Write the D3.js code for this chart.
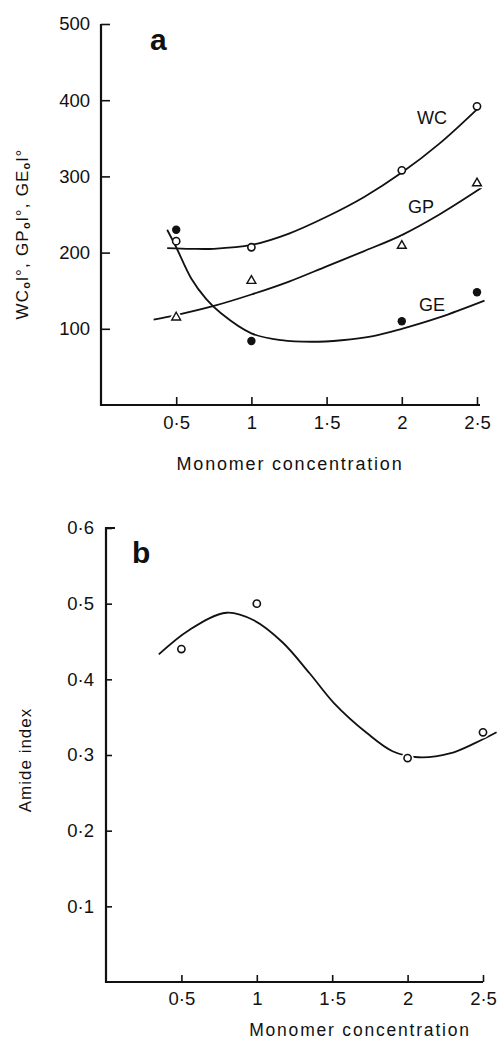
<!DOCTYPE html>
<html><head><meta charset="utf-8">
<script src="https://cdn.jsdelivr.net/npm/d3@7"></script>
<style>
body{margin:0;background:#fff}
text{font-family:"Liberation Sans",Arial,sans-serif;fill:#111}
</style></head>
<body><svg id="c" width="498" height="1041"></svg>
<script>
// ---------- data: panel a ----------
const concA = [0.5, 1, 2, 2.5];
const wcValues = [215, 207, 308, 392];
const gpValues = [115, 163, 209, 291];
const geValues = [230, 84, 110, 148];
// hand-drawn fitted curves
const wcCurveX = [0.44, 0.6, 0.75, 1.0, 1.25, 1.5, 1.75, 2.0, 2.25, 2.5];
const wcCurveY = [206, 205, 205, 210, 225, 247, 273, 305, 343, 388];
const gpCurveX = [0.35, 0.5, 0.75, 1.0, 1.25, 1.5, 1.75, 2.0, 2.25, 2.53];
const gpCurveY = [112, 118, 130, 145, 162, 182, 202, 223, 250, 285];
const geCurveX = [0.44, 0.5, 0.6, 0.7, 0.8, 1.0, 1.2, 1.4, 1.6, 1.8, 2.0, 2.25, 2.55];
const geCurveY = [230, 207, 166, 139, 120, 94, 85, 83, 85, 90, 100, 115, 137];
const yTicksA = [100, 200, 300, 400, 500];
const xTicks = [0.5, 1, 1.5, 2, 2.5];
const xTickLabels = ["0·5", "1", "1·5", "2", "2·5"];

// ---------- data: panel b ----------
const concB = [0.5, 1, 2, 2.5];
const amideValues = [0.44, 0.50, 0.296, 0.33];
const amCurveX = [0.35, 0.55, 0.8, 0.98, 1.17, 1.35, 1.51, 1.73, 1.9, 2.07, 2.28, 2.45, 2.59];
const amCurveY = [0.433, 0.465, 0.488, 0.478, 0.449, 0.408, 0.369, 0.329, 0.305, 0.297, 0.302, 0.316, 0.330];
const yTicksB = [0.1, 0.2, 0.3, 0.4, 0.5, 0.6];
const yTickLabelsB = ["0·1", "0·2", "0·3", "0·4", "0·5", "0·6"];

const svg = d3.select("#c");

function styleAxis(g){
  g.selectAll(".tick line").attr("stroke","#111").attr("stroke-width",1.6);
  g.selectAll(".tick text").attr("font-size",18.5).attr("fill","#111")
   .attr("font-family","'Liberation Sans',Arial,sans-serif");
  g.select(".domain").remove();
}

// ================= PANEL A =================
const xA = d3.scaleLinear([0, 2.5], [101, 477]);
const yA = d3.scaleLinear([0, 500], [405, 24]);
const gA = svg.append("g");

gA.append("g").attr("transform", `translate(${xA(0)},0)`)
  .call(d3.axisLeft(yA).tickValues(yTicksA).tickSizeInner(-9).tickSizeOuter(0).tickPadding(11))
  .call(styleAxis);
gA.append("g").attr("transform", `translate(0,${yA(0)})`)
  .call(d3.axisBottom(xA).tickValues(xTicks).tickFormat((d,i)=>xTickLabels[i]).tickSizeInner(-8).tickSizeOuter(0).tickPadding(11))
  .call(styleAxis);
gA.append("path").attr("fill","none").attr("stroke","#111").attr("stroke-width",2.2)
  .attr("d", `M${xA(0)},${yA(500)}V${yA(0)}H${xA(2.52)}`);

const lineA = d3.line().curve(d3.curveCatmullRom.alpha(0.5)).x(d=>xA(d[0])).y(d=>yA(d[1]));
[[wcCurveX,wcCurveY],[gpCurveX,gpCurveY],[geCurveX,geCurveY]].forEach(([xs,ys])=>{
  gA.append("path").datum(xs.map((x,i)=>[x,ys[i]]))
    .attr("fill","none").attr("stroke","#111").attr("stroke-width",1.8).attr("d",lineA);
});

// WC open circles
gA.selectAll(".wc").data(concA).enter().append("circle")
  .attr("cx",d=>xA(d)).attr("cy",(d,i)=>yA(wcValues[i])).attr("r",3.6)
  .attr("fill","#fff").attr("stroke","#111").attr("stroke-width",1.6);
// GP triangles
const tri = d3.symbol().type(d3.symbolTriangle).size(34);
gA.selectAll(".gpHalo").data(concA).enter().append("path")
  .attr("d",tri).attr("transform",(d,i)=>`translate(${xA(d)},${yA(gpValues[i])})`)
  .attr("fill","#fff").attr("stroke","#fff").attr("stroke-width",5);
gA.selectAll(".gp").data(concA).enter().append("path")
  .attr("d",tri).attr("transform",(d,i)=>`translate(${xA(d)},${yA(gpValues[i])})`)
  .attr("fill","#fff").attr("stroke","#111").attr("stroke-width",1.4);
// GE filled circles
gA.selectAll(".ge").data(concA).enter().append("circle")
  .attr("cx",d=>xA(d)).attr("cy",(d,i)=>yA(geValues[i])).attr("r",4.2)
  .attr("fill","#111");

// series labels
gA.append("text").attr("x",432).attr("y",124).attr("text-anchor","middle").attr("font-size",18).text("WC");
gA.append("text").attr("x",421).attr("y",213).attr("text-anchor","middle").attr("font-size",18).text("GP");
gA.append("text").attr("x",432).attr("y",311).attr("text-anchor","middle").attr("font-size",18).text("GE");
// panel letter
gA.append("text").attr("x",150).attr("y",50).attr("font-size",30).attr("font-weight","bold").text("a");
// axis titles
gA.append("text").attr("x",290).attr("y",470).attr("text-anchor","middle").attr("font-size",18)
  .attr("letter-spacing",1.8).text("Monomer concentration");
const yl = gA.append("text").attr("transform","translate(28,234) rotate(-90)").attr("text-anchor","middle")
  .attr("font-size",17).attr("letter-spacing",1.2);
[["WC"],["o",1],["l°, GP"],["o",1],["l°, GE"],["o",1],["l°"]].forEach(([t,s],i)=>{
  const ts = yl.append("tspan").text(t);
  if(s){ ts.attr("font-size",11).attr("font-weight","bold").attr("dy",2); }
  else if(i>0) ts.attr("dy",-2);
});

// ================= PANEL B =================
const xB = d3.scaleLinear([0, 2.5], [106, 483]);
const yB = d3.scaleLinear([0, 0.6], [982, 528]);
const gB = svg.append("g");

gB.append("g").attr("transform", `translate(${xB(0)},0)`)
  .call(d3.axisLeft(yB).tickValues(yTicksB).tickFormat((d,i)=>yTickLabelsB[i]).tickSizeInner(-6).tickSizeOuter(0).tickPadding(12))
  .call(styleAxis);
gB.append("g").attr("transform", `translate(0,${yB(0)})`)
  .call(d3.axisBottom(xB).tickValues(xTicks).tickFormat((d,i)=>xTickLabels[i]).tickSizeInner(-7).tickSizeOuter(0).tickPadding(10))
  .call(styleAxis);
gB.append("path").attr("fill","none").attr("stroke","#111").attr("stroke-width",2.2)
  .attr("d", `M${xB(0)+9},${yB(0.6)}H${xB(0)}V${yB(0)}H${xB(2.5)}`);

const lineB = d3.line().curve(d3.curveCatmullRom.alpha(0.5)).x(d=>xB(d[0])).y(d=>yB(d[1]));
gB.append("path").datum(amCurveX.map((x,i)=>[x,amCurveY[i]]))
  .attr("fill","none").attr("stroke","#111").attr("stroke-width",1.8).attr("d",lineB);
gB.selectAll(".am").data(concB).enter().append("circle")
  .attr("cx",d=>xB(d)).attr("cy",(d,i)=>yB(amideValues[i])).attr("r",3.6)
  .attr("fill","#fff").attr("stroke","#fff").attr("stroke-width",5);
gB.selectAll(".am2").data(concB).enter().append("circle")
  .attr("cx",d=>xB(d)).attr("cy",(d,i)=>yB(amideValues[i])).attr("r",3.6)
  .attr("fill","#fff").attr("stroke","#111").attr("stroke-width",1.6);

gB.append("text").attr("x",132).attr("y",563).attr("font-size",30).attr("font-weight","bold").text("b");
gB.append("text").attr("x",360).attr("y",1036).attr("text-anchor","middle").attr("font-size",17.5)
  .attr("letter-spacing",1.8).text("Monomer concentration");
gB.append("text").attr("transform","translate(31,760) rotate(-90)").attr("text-anchor","middle")
  .attr("font-size",17).attr("letter-spacing",1).text("Amide index");
</script></body></html>
